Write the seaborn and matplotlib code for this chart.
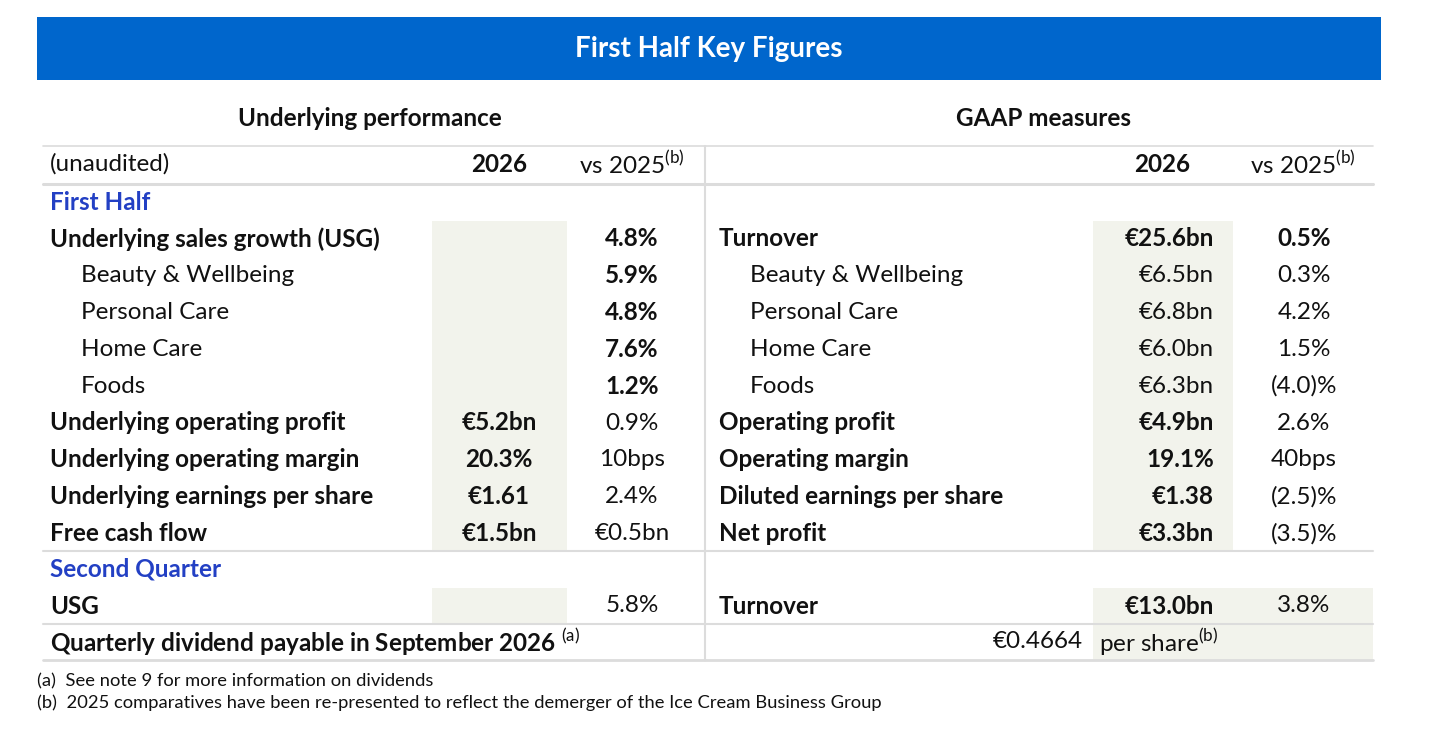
import matplotlib
matplotlib.use("Agg")
import matplotlib.pyplot as plt
import seaborn as sns
from matplotlib.patches import Rectangle

sns.set_theme(style="white")
plt.rcParams['font.family'] = ['Lato', 'DejaVu Sans']
plt.rcParams['mathtext.fontset'] = 'custom'
plt.rcParams['mathtext.rm'] = 'Lato'

title = "First Half Key Figures"
left_labels = ["Underlying sales growth (USG)", "Beauty & Wellbeing", "Personal Care", "Home Care", "Foods",
               "Underlying operating profit", "Underlying operating margin", "Underlying earnings per share", "Free cash flow"]
left_2026 = ["", "", "", "", "", "€5.2bn", "20.3%", "€1.61", "€1.5bn"]
left_vs = ["4.8%", "5.9%", "4.8%", "7.6%", "1.2%", "0.9%", "10bps", "2.4%", "€0.5bn"]
left_bold = [True, False, False, False, False, True, True, True, True]
left_vsbold = [True, True, True, True, True, False, False, False, False]
right_labels = ["Turnover", "Beauty & Wellbeing", "Personal Care", "Home Care", "Foods",
                "Operating profit", "Operating margin", "Diluted earnings per share", "Net profit"]
right_2026 = ["€25.6bn", "€6.5bn", "€6.8bn", "€6.0bn", "€6.3bn", "€4.9bn", "19.1%", "€1.38", "€3.3bn"]
right_vs = ["0.5%", "0.3%", "4.2%", "1.5%", "(4.0)%", "2.6%", "40bps", "(2.5)%", "(3.5)%"]
indent = [False, True, True, True, True, False, False, False, False]
q2_left = ("USG", "", "5.8%")
q2_right = ("Turnover", "€13.0bn", "3.8%")
dividend_label = "Quarterly dividend payable in September 2026 $^{\\mathrm{(a)}}$"
dividend_value = "€0.4664"
notes = ["(a)  See note 9 for more information on dividends",
         "(b)  2025 comparatives have been re-presented to reflect the demerger of the Ice Cream Business Group"]

fig = plt.figure(figsize=(14.56, 7.46), dpi=100)
ax = fig.add_axes([0, 0, 1, 1])
ax.set_xlim(0, 1456); ax.set_ylim(746, 0); ax.axis('off')

BLUE = "#0066CC"; SHADE = "#F2F3EC"; LINE = "#DCDCDC"; TXT = "#111111"; HBLUE = "#2340C4"
FS = 17.5

ax.add_patch(Rectangle((37, 17), 1344, 63, color=BLUE, lw=0))
ax.text(709, 49, title, color="white", fontsize=20, fontweight="bold", ha="center", va="center")

ys = [239 + 36.8 * i for i in range(9)]
ax.add_patch(Rectangle((432, 221), 135, 330, color=SHADE, lw=0))
ax.add_patch(Rectangle((1093, 221), 140, 330, color=SHADE, lw=0))
ax.add_patch(Rectangle((432, 588), 135, 36, color=SHADE, lw=0))
ax.add_patch(Rectangle((1093, 588), 280, 72, color=SHADE, lw=0))

for y, lw in [(146, 1.2), (184, 2.2), (551, 1.5), (624, 1.5), (660, 2.0)]:
    ax.plot([43, 1373], [y, y], color=LINE, lw=lw)
ax.plot([705, 705], [146, 660], color=LINE, lw=1.5)

sup = "vs 2025$^{\\mathrm{(b)}}$"
ax.text(370, 119, "Underlying performance", fontsize=FS, fontweight="bold", ha="center", va="center", color=TXT)
ax.text(1043, 119, "GAAP measures", fontsize=FS, fontweight="bold", ha="center", va="center", color=TXT)
ax.text(50, 164, "(unaudited)", fontsize=FS, ha="left", va="center", color=TXT)
for x in (499, 1162):
    ax.text(x, 164, "2026", fontsize=FS, fontweight="bold", ha="center", va="center", color=TXT)
for x in (632, 1303):
    ax.text(x, 164, sup, fontsize=FS, ha="center", va="center", color=TXT)

ax.text(50, 202, "First Half", fontsize=FS, fontweight="bold", ha="left", va="center", color=HBLUE)
ax.text(50, 569, "Second Quarter", fontsize=FS, fontweight="bold", ha="left", va="center", color=HBLUE)

for i, y in enumerate(ys):
    xl = 81 if indent[i] else 50
    xr = 750 if indent[i] else 719
    w = "bold" if left_bold[i] else "normal"
    ax.text(xl, y, left_labels[i], fontsize=FS, fontweight=w, ha="left", va="center", color=TXT)
    ax.text(xr, y, right_labels[i], fontsize=FS, fontweight=w, ha="left", va="center", color=TXT)
    ax.text(499, y, left_2026[i], fontsize=FS, fontweight="bold", ha="center", va="center", color=TXT)
    ax.text(632, y, left_vs[i], fontsize=FS, fontweight="bold" if left_vsbold[i] else "normal",
            ha="center", va="center", color=TXT)
    ax.text(1214, y, right_2026[i], fontsize=FS, fontweight=w, ha="right", va="center", color=TXT)
    ax.text(1304, y, right_vs[i], fontsize=FS, fontweight="bold" if i == 0 else "normal",
            ha="center", va="center", color=TXT)

ax.text(50, 606, q2_left[0], fontsize=FS, fontweight="bold", ha="left", va="center", color=TXT)
ax.text(632, 606, q2_left[2], fontsize=FS, ha="center", va="center", color=TXT)
ax.text(719, 606, q2_right[0], fontsize=FS, fontweight="bold", ha="left", va="center", color=TXT)
ax.text(1214, 606, q2_right[1], fontsize=FS, fontweight="bold", ha="right", va="center", color=TXT)
ax.text(1304, 606, q2_right[2], fontsize=FS, ha="center", va="center", color=TXT)

ax.text(50, 642, dividend_label, fontsize=FS, fontweight="bold", ha="left", va="center", color=TXT)
ax.text(1083, 642, dividend_value, fontsize=FS, ha="right", va="center", color=TXT)
ax.text(1099, 642, "per share$^{\\mathrm{(b)}}$", fontsize=FS, ha="left", va="center", color=TXT)

ax.text(37, 681, notes[0], fontsize=13.2, ha="left", va="center", color=TXT)
ax.text(37, 703, notes[1], fontsize=13.2, ha="left", va="center", color=TXT)

fig.savefig("out.png", dpi=100, facecolor="white")
